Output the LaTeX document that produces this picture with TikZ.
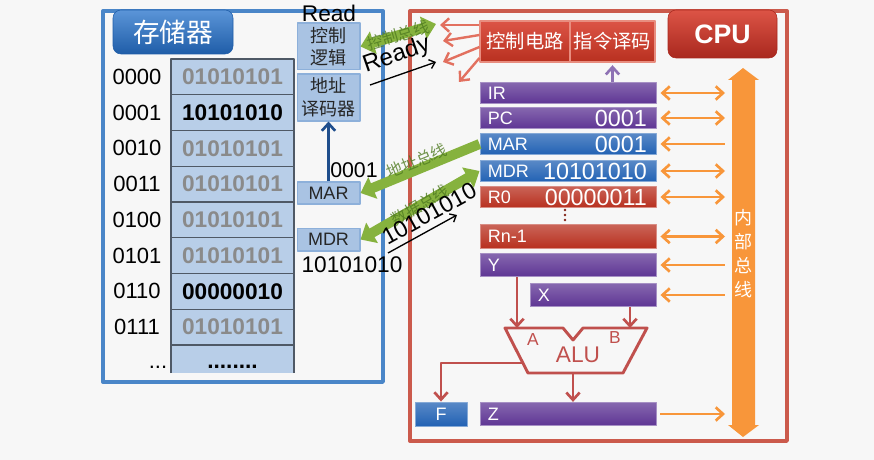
\documentclass[tikz,border=0pt]{standalone}
\usepackage{fontspec}
\setmainfont{Liberation Sans}
\newfontfamily\cjk{Noto Sans CJK SC}
\usetikzlibrary{arrows.meta,positioning}
\definecolor{bg}{HTML}{F7F7F7}
\definecolor{memblue}{HTML}{4A86C8}
\definecolor{memtop}{HTML}{5B95D8}
\definecolor{membot}{HTML}{1F5DA8}
\definecolor{cpured}{HTML}{CB5A4C}
\definecolor{cputop}{HTML}{DC5446}
\definecolor{cpubot}{HTML}{A9281E}
\definecolor{cellfill}{HTML}{B8CEE8}
\definecolor{celline}{HTML}{4F5966}
\definecolor{boxfill}{HTML}{A9C3E3}
\definecolor{boxline}{HTML}{8DB0DA}
\definecolor{purp}{HTML}{5E3594}
\definecolor{blu}{HTML}{2262B4}
\definecolor{rd}{HTML}{B8301F}
\definecolor{orng}{HTML}{F8963A}
\definecolor{grn}{HTML}{86B23E}
\definecolor{dgrn}{HTML}{4E7A20}
\definecolor{alured}{HTML}{C0504D}
\definecolor{ctlred}{HTML}{E2705F}
\definecolor{darkblu}{HTML}{1F4E8C}
\definecolor{greytxt}{HTML}{8A8A8A}
\begin{document}
\begin{tikzpicture}[x=.75pt,y=-.75pt,line join=round,
  cell/.style={draw=celline,line width=.9pt,fill=cellfill,minimum width=92.25pt,minimum height=26.8pt,inner sep=0pt,text=greytxt,font=\bfseries\fontsize{17}{20}\selectfont},
  addr/.style={font=\fontsize{16.5}{20}\selectfont},
  mbox/.style={draw=boxline,line width=1pt,fill=boxfill,minimum width=47pt,inner sep=0pt,text=black!85},
  ctlbox/.style={draw=ctlred!80!white,line width=.8pt,top color=cputop,bottom color=rd,minimum height=30.75pt,inner sep=0pt,text=white,font=\cjk\fontsize{14.5}{17}\selectfont},
  reg/.style={minimum width=132pt,minimum height=16pt,inner sep=0pt,draw=#1!55!white,line width=.7pt,top color=#1!75!white,bottom color=#1},
  rlab/.style={anchor=west,text=white,font=\fontsize{13.5}{16}\selectfont,inner sep=0pt},
  rval/.style={anchor=east,text=white,font=\fontsize{17.5}{20}\selectfont,inner sep=0pt},
  oarr/.style={draw=orng,line width=2pt,shorten <=3pt},
  rarr/.style={draw=alured,line width=2pt},
  carr/.style={draw=ctlred,line width=1.8pt},
  karr/.style={draw=black,line width=1pt,-{Straight Barb[length=4pt,width=7pt]}},
  gbus/.style={draw=grn,line width=7.5pt},
  gtxt/.style={text=dgrn,text opacity=.8,font=\cjk\fontsize{12}{14}\selectfont,inner sep=0pt},
  >={Straight Barb[length=5.5pt,width=10pt]}]
\fill[bg] (0,0) rectangle (874,460);
\useasboundingbox (0,0) rectangle (874,460);
% memory
\draw[memblue,line width=2.5pt] (103,11) rectangle (383,382);
\node[rounded corners=6pt,top color=memtop,bottom color=membot,draw=membot,minimum width=90pt,minimum height=33pt,text=white,font=\cjk\fontsize{20}{24}\selectfont] (memttl) at (173,32) {存储器};
\foreach \a/\v/\c [count=\i from 0] in {0000/01010101/greytxt,0001/10101010/black,0010/01010101/greytxt,0011/01010101/greytxt,0100/01010101/greytxt,0101/01010101/greytxt,0110/00000010/black,0111/01010101/greytxt}{
  \node[cell,text=\c] (c\i) at (232.5,{76.9+35.75*\i}) {\v};
  \node[addr] (a\i) at (137,{76.9+35.75*\i}) {\a};
}
\fill[cellfill] (171,345) rectangle (294,373);
\draw[celline,line width=.9pt] (171,373)--(171,345)--(294,345)--(294,373);
\node[font=\bfseries\fontsize{17}{20}\selectfont,inner sep=0pt] (cdots) at (232.5,367) {........};
\node[addr,inner sep=0pt] (adots) at (158,367) {...};
\node[mbox,minimum height=35pt,align=center,font=\cjk\fontsize{13.5}{17}\selectfont] (ctl) at (328.5,46.5) {控制\\逻辑};
\node[mbox,minimum height=35pt,align=center,font=\cjk\fontsize{13.5}{17}\selectfont] (dec) at (328.5,97.5) {地址\\译码器};
\node[mbox,minimum height=16.5pt,font=\fontsize{13.5}{16}\selectfont] (mmar) at (328.5,193) {MAR};
\node[mbox,minimum height=17pt,font=\fontsize{13.5}{16}\selectfont] (mmdr) at (328.5,239.5) {MDR};
\node[font=\fontsize{17}{20}\selectfont] (rdtxt) at (329,13) {Read};
\node[font=\fontsize{16}{20}\selectfont] (marval) at (354,170) {0001};
\node[font=\fontsize{17}{20}\selectfont] (mdrval) at (352,265) {10101010};
\draw[darkblu,line width=2pt,->] (mmar) -- (dec);
% cpu
\draw[cpured,line width=2.5pt] (410,11) rectangle (787,441);
\node[rounded corners=6pt,top color=cputop,bottom color=cpubot,draw=cpubot,minimum width=81.75pt,minimum height=36pt,text=white,font=\bfseries\fontsize{20}{24}\selectfont] (cputtl) at (722.5,34) {CPU};
\node[ctlbox,minimum width=67.5pt] (ctrl) at (525,41.5) {控制电路};
\node[ctlbox,minimum width=63.75pt] (idec) at (612.5,41.5) {指令译码};
\foreach \n/\l/\v/\c/\y in {ir/IR//purp/93,pc/PC/0001/purp/118,cmar/MAR/0001/blu/144,cmdr/MDR/10101010/blu/171,r0/R0/00000011/rd/197}{
  \node[reg=\c] (\n) at (568,\y) {};
  \node[rlab] (\n-l) at ([xshift=6pt]\n.west) {\l};
  \node[rval] (\n-v) at ([xshift=-7pt]\n.east) {\v};
}
\foreach \n/\l/\c/\x/\w/\y in {rn/Rn-1/rd/568/132/236.5,regy/Y/purp/568/132/265,regx/X/purp/593/94.5/295,regz/Z/purp/568/132/414}{
  \node[reg=\c,minimum width=\w pt,minimum height=17.5pt] (\n) at (\x,\y) {};
  \node[rlab] (\n-l) at ([xshift=6pt]\n.west) {\l};
}
\node[reg=blu,minimum width=39pt,minimum height=18pt] (f) at (441,414) {};
\node[text=white,font=\fontsize{13.5}{16}\selectfont] (f-l) at (f) {F};
\foreach \d in {210,215,220} \fill[rd!70!black] (565,\d) circle (1pt);
\draw[purp!70!white,line width=2pt,->,shorten >=2pt] (idec.south |- ir.north) -- (idec.south);
% alu
\draw[alured,line width=2.2pt] (505,328) -- (563,328) -- (573,340) -- (583,328) -- (647,328) -- (623,373) -- (528,373) -- cycle;
\node[text=alured,font=\fontsize{17}{20}\selectfont] (alu) at (578,355) {ALU};
\node[text=alured,font=\fontsize{13}{16}\selectfont] (alua) at (533,340) {A};
\node[text=alured,font=\fontsize{13}{16}\selectfont] (alub) at (615,338) {B};
\coordinate (ina) at (517,328); \coordinate (inb) at (630,328);
\coordinate (aluo) at (573,373); \coordinate (aluf) at (523,363);
\draw[rarr,->] (regy.south -| ina) -- (ina);
\draw[rarr,->] (regx.south -| inb) -- (inb);
\draw[rarr,->] (aluo) -- (regz.north -| aluo);
\draw[rarr,->] (aluf) -| (f.north);
% internal bus
\fill[orng] (743,68) -- (759,80) -- (755,80) -- (755,425) -- (759,425) -- (743,437) -- (728,425) -- (732,425) -- (732,80) -- (728,80) -- cycle;
\node[text=white,align=center,font=\cjk\fontsize{13.5}{18}\selectfont] (bus) at (743,254) {内\\部\\总\\线};
\coordinate (busl) at (725,0);
\foreach \n in {ir,pc,cmdr,r0,rn} \draw[oarr,<->] (\n.east) -- (\n.east -| busl);
\foreach \n in {cmar,regy,regx} \draw[oarr,<-] (\n.east) -- (\n.east -| busl);
\draw[oarr,->] (regz.east) -- (regz.east -| busl);
% control lines
\foreach \sy/\tx/\ty [count=\k] in {25/440/25,35/443/41,47/443/62,58/459/82}{
  \coordinate (ct\k) at (\tx,\ty);
  \draw[carr,->] (ctrl.west |- 0,\sy) -- (ct\k);
}
% buses between memory and cpu
\coordinate (cb) at (436,24);
\draw[gbus,{Triangle[length=10pt,width=17pt]}-{Triangle[length=10pt,width=17pt]}] (ctl.east) -- (cb) node[gtxt,midway,sloped] {控制总线};
\draw[gbus,-{Triangle[length=10pt,width=17pt]}] (cmar.west) -- (mmar.east) node[gtxt,midway,sloped,above=-3pt] {地址总线};
\draw[gbus,{Triangle[length=10pt,width=17pt]}-{Triangle[length=10pt,width=17pt]}] (mmdr.east) -- (cmdr.west) node[gtxt,midway,sloped] {数据总线};
\coordinate (rdy0) at (370,85); \coordinate (rdy1) at (436,62);
\draw[karr] (rdy0) -- (rdy1) node[midway,sloped,above=2pt,font=\fontsize{18}{20}\selectfont] {Ready};
\coordinate (dat0) at (388,253); \coordinate (dat1) at (457,215);
\draw[karr] (dat0) -- (dat1) node[pos=.7,sloped,above=1pt,font=\fontsize{17.5}{20}\selectfont] {10101010};
\end{tikzpicture}
\end{document}
